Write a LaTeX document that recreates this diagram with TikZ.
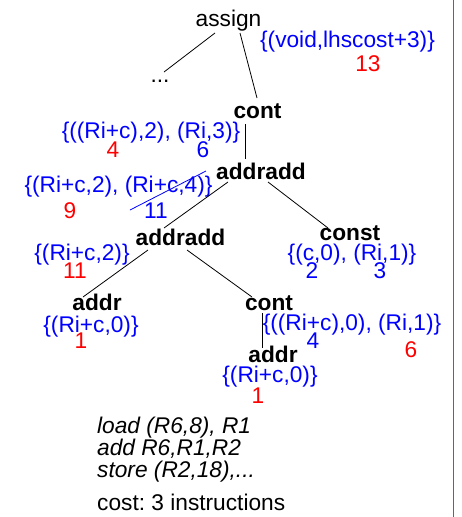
\documentclass[tikz,border=0pt]{standalone}
\usepackage{fontspec}
\setmainfont{Liberation Sans}
\usetikzlibrary{calc}
\frenchspacing

\begin{document}
\begin{tikzpicture}[x=1pt,y=-1pt,
    every node/.style={inner sep=0pt,anchor=base,font=\fontsize{22.7}{26}\selectfont},
    opnode/.style={font=\fontsize{22.7}{26}\selectfont\bfseries},
    setlbl/.style={text=blue},
    costlbl/.style={text=red},
    codeline/.style={anchor=base west,font=\fontsize{22.7}{26}\selectfont\itshape},
    edge/.style={line width=0.8pt}]
            \useasboundingbox (0,0) rectangle (461,517);
            \draw[black!60, line width=1.5pt] (453.5,0) -- (453.5,517);

            \node (assign) at (228.5,26) {assign};
            \node[setlbl] (assignset) at (347.5,47) {\{(void,lhscost+3)\}};
            \node[costlbl] (assigncost) at (368,71) {13};
            \node (dots) at (160,82) {...};

            \node[opnode] (cont) at (257.5,118) {cont};
            \node[setlbl] (contset) at (151,138) {\{((Ri+c),2), (Ri,3)\}};
            \node[costlbl] (contcosta) at (113,157) {4};
            \node[setlbl] (contcostb) at (203,157) {6};

            \node[opnode] (addrA) at (261,179) {addradd};
            \node[setlbl] (addrAset) at (118.5,192) {\{(Ri+c,2), (Ri+c,4)\}};
            \node[costlbl] (addrAcosta) at (70,218) {9};
            \node[setlbl] (addrAcostb) at (156,218) {11};
            \draw[blue, line width=0.8pt] (130,210) -- (206,171);

            \node[opnode] (addrB) at (180.5,245) {addradd};
            \node[setlbl] (addrBset) at (82,260) {\{(Ri+c,2)\}};
            \node[costlbl] (addrBcost) at (75,278) {11};

            \node[opnode] (const) at (350,240) {const};
            \node[setlbl] (constset) at (352,260) {\{(c,0), (Ri,1)\}};
            \node[setlbl] (constcosta) at (312,278) {2};
            \node[setlbl] (constcostb) at (380,278) {3};

            \node[opnode] (addrL) at (97,310) {addr};
            \node[setlbl] (addrLset) at (91,332) {\{(Ri+c,0)\}};
            \node[costlbl] (addrLcost) at (81,348) {1};

            \node[opnode] (cont2) at (269,310) {cont};
            \node[setlbl] (cont2set) at (352,330) {\{((Ri+c),0), (Ri,1)\}};
            \node[setlbl] (cont2costa) at (313,348) {4};
            \node[costlbl] (cont2costb) at (411,357) {6};

            \node[opnode] (addrR) at (273,362) {addr};
            \node[setlbl] (addrRset) at (270,382) {\{(Ri+c,0)\}};
            \node[costlbl] (addrRcost) at (258,403) {1};

            \draw[edge] ([xshift=-13.5pt,yshift=-7pt]assign.base) -- ([xshift=4pt,yshift=10pt]dots.base);
            \draw[edge] ([xshift=11.5pt,yshift=-7pt]assign.base) -- ([xshift=-0.5pt,yshift=20pt]cont.base);
            \draw[edge] ([xshift=-11.8pt,yshift=-6pt]cont.base) -- ([xshift=-15.3pt,yshift=20pt]addrA.base);
            \draw[edge] ([xshift=-33pt,yshift=-3pt]addrA.base) -- ([xshift=-16.5pt,yshift=17pt]addrB.base);
            \draw[edge] ([xshift=7pt,yshift=-3pt]addrA.base) -- ([xshift=-22pt,yshift=12pt]const.base);
            \draw[edge] ([xshift=-32.5pt,yshift=-5pt]addrB.base) -- ([xshift=-14pt,yshift=13pt]addrL.base);
            \draw[edge] ([xshift=6.5pt,yshift=-5pt]addrB.base) -- ([xshift=-17pt,yshift=13pt]cont2.base);
            \draw[edge] ([xshift=-6.3pt,yshift=-3pt]cont2.base) -- ([xshift=-10.3pt,yshift=14pt]addrR.base);

            \node[codeline] (load) at (97,433) {load (R6,8), R1};
            \node[codeline] (add) at (97,455) {add R6,R1,R2};
            \node[codeline] (store) at (97,477) {store (R2,18),...};
            \node[anchor=base west] (cost) at (97,510) {cost: 3 instructions};
        \end{tikzpicture}
\end{document}
